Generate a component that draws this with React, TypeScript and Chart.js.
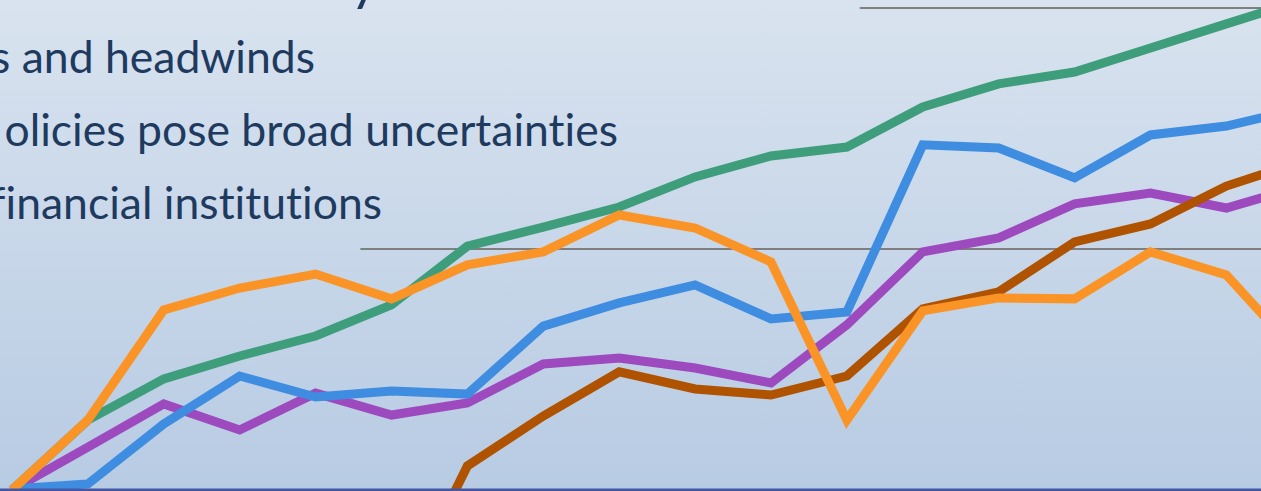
import React, { useEffect, useRef } from "react";
import { Chart, registerables } from "chart.js";

Chart.register(...registerables);

// period index (x categories); index 17 runs past the right edge of the crop
const periods = [0, 1, 2, 3, 4, 5, 6, 7, 8, 9, 10, 11, 12, 13, 14, 15, 16, 17];

const greenSeries = [0, 29.0, 46.1, 55.6, 63.9, 76.8, 101.2, 109.1, 117.4, 129.9, 138.6, 142.3, 158.9, 168.5, 173.4, 183.4, 193.4, 203.3];
const orangeSeries = [0, 29.0, 74.7, 83.8, 89.6, 79.3, 93.4, 98.8, 114.1, 108.7, 94.6, 29.0, 74.3, 79.7, 79.3, 98.8, 89.2, 54.8];
const blueSeries = [0.4, 2.5, 27.4, 47.3, 38.6, 41.1, 39.8, 68.0, 77.6, 85.1, 71.0, 73.9, 143.2, 141.9, 129.5, 147.3, 151.0, 158.5];
const purpleSeries = [0, 17.8, 35.7, 24.9, 40.2, 31.1, 36.1, 52.3, 54.8, 50.6, 44.4, 68.5, 98.8, 104.6, 118.7, 123.2, 117.0, 126.1];
const brownSeries = [null, null, null, null, null, -53.9, 10.0, 30.7, 49.0, 41.9, 39.4, 47.3, 75.1, 82.2, 102.9, 110.4, 126.1, 136.5];

// horizontal reference lines (value, first period where visible)
const gridValues = [100, 200];
const gridStarts = [4.59, 11.17];

const textLines = ["s and headwinds", "olicies pose broad uncertainties", "financial institutions"];

const pts = (vals: (number | null)[]) => periods.map((p, i) => ({ x: p, y: vals[i] }));

export default function App() {
  const ref = useRef<HTMLCanvasElement>(null);
  useEffect(() => {
    document.body.style.margin = "0";
    const gridPlugin = {
      id: "gridPlugin",
      beforeDatasetsDraw(chart: any) {
        const { ctx, scales, chartArea } = chart;
        ctx.save();
        ctx.strokeStyle = "#7f7f7f";
        ctx.lineWidth = 2;
        gridValues.forEach((v, i) => {
          const y = Math.round(scales.y.getPixelForValue(v));
          const x0 = scales.x.getPixelForValue(gridStarts[i]);
          ctx.beginPath();
          ctx.moveTo(x0, y);
          ctx.lineTo(chartArea.right, y);
          ctx.stroke();
        });
        ctx.restore();
      },
      afterDatasetsDraw(chart: any) {
        const { ctx, scales, chartArea } = chart;
        ctx.save();
        ctx.strokeStyle = "#4456a4";
        ctx.lineWidth = 3;
        const y = scales.y.getPixelForValue(0);
        ctx.beginPath();
        ctx.moveTo(chartArea.left, y);
        ctx.lineTo(chartArea.right, y);
        ctx.stroke();
        ctx.restore();
      },
    };
    const ds = (data: any, color: string) => ({
      data,
      borderColor: color,
      backgroundColor: color,
      borderWidth: 9,
      pointRadius: 0,
      tension: 0,
      fill: false,
      spanGaps: false,
    });
    const chart = new Chart(ref.current as HTMLCanvasElement, {
      type: "line",
      data: {
        datasets: [
          ds(pts(orangeSeries), "#fb9427"),
          ds(pts(greenSeries), "#3e9d7b"),
          ds(pts(blueSeries), "#3f8de0"),
          ds(pts(brownSeries), "#b05300"),
          ds(pts(purpleSeries), "#9d4abf"),
        ],
      },
      options: {
        animation: false,
        responsive: false,
        devicePixelRatio: 1,
        layout: { padding: 0 },
        plugins: { legend: { display: false }, tooltip: { enabled: false } },
        scales: {
          x: { type: "linear", min: -0.158, max: 16.456, display: false },
          y: { type: "linear", min: -0.415, max: 203.3, display: false },
        },
      },
      plugins: [gridPlugin],
    });
    return () => chart.destroy();
  }, []);

  const textStyle: React.CSSProperties = {
    position: "absolute",
    whiteSpace: "nowrap",
    font: "44.5px Lato, 'Open Sans', sans-serif",
    lineHeight: "44.5px",
    color: "#1f3a5f",
    fontVariantLigatures: "none",
  };
  return (
    <div
      style={{
        position: "relative",
        width: 1261,
        height: 491,
        overflow: "hidden",
        background: "linear-gradient(to bottom, #d9e3ef 0%, #b7cbe3 100%)",
      }}
    >
      <div style={{ ...textStyle, left: 350, top: -50, font: "56px Lato, sans-serif", lineHeight: "56px" }}>y</div>
      <div style={{ ...textStyle, right: 1261 - 315, top: 33.5 }}>{textLines[0]}</div>
      <div style={{ ...textStyle, right: 1261 - 618, top: 106.5 }}>{textLines[1]}</div>
      <div style={{ ...textStyle, right: 1261 - 382, top: 179.5 }}>{textLines[2]}</div>
      <canvas ref={ref} width={1261} height={491} style={{ position: "absolute", left: 0, top: 0 }} />
    </div>
  );
}
